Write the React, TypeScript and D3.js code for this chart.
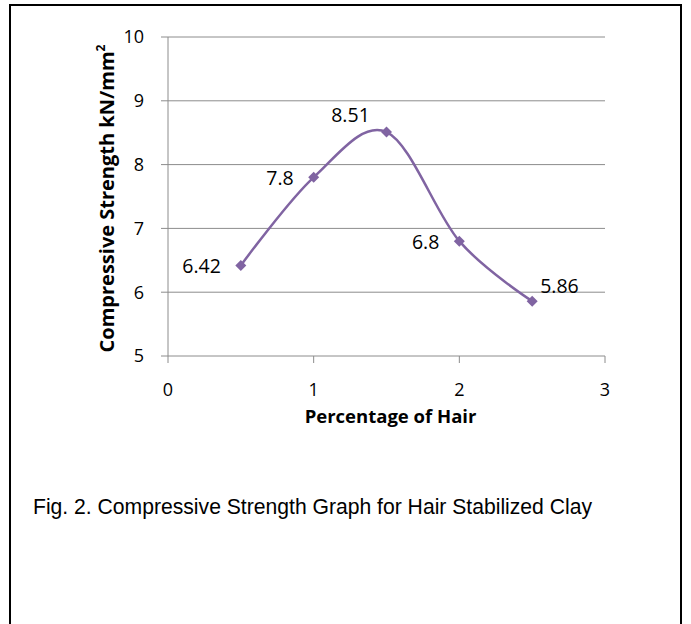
import React from "react";
import * as d3 from "d3";

const hairPct = [0.5, 1, 1.5, 2, 2.5];
const strength = [6.42, 7.8, 8.51, 6.8, 5.86];
const labels = ["6.42", "7.8", "8.51", "6.8", "5.86"];
const xTicks = [0, 1, 2, 3];
const yTicks = [5, 6, 7, 8, 9, 10];
const labelPos = ["left", "left", "above", "left", "rightAbove"];

const W = 691;
const H = 624;
const FONT = "'Open Sans', Lato, sans-serif";

export default function App() {
  const x = d3.scaleLinear().domain([0, 3]).range([168, 605]);
  const y = d3.scaleLinear().domain([5, 10]).range([356, 37]);
  const line = d3
    .line<number>()
    .x((_, i) => x(hairPct[i]))
    .y((d) => y(d))
    .curve(d3.curveCatmullRom.alpha(0));
  const purple = "#8064A2";
  const grid = "#8c8c8c";

  return (
    <svg
      width={W}
      height={H}
      style={{ position: "absolute", left: 0, top: 0, background: "#fff" }}
    >
      <rect x={0} y={0} width={W} height={H} fill="#fff" />
      <rect x={10} y={5} width={671} height={640} fill="none" stroke="#000" strokeWidth={2} />
      {yTicks.map((t) => (
        <g key={t}>
          <line x1={161} x2={x(3)} y1={y(t)} y2={y(t)} stroke={grid} strokeWidth={1} />
          <text
            x={144}
            y={y(t)}
            dy="0.36em"
            textAnchor="end"
            fontFamily={FONT}
            fontSize={18}
            fill="#000"
          >
            {t}
          </text>
        </g>
      ))}
      <line x1={x(0)} x2={x(0)} y1={y(10)} y2={y(5)} stroke={grid} strokeWidth={1} />
      {xTicks.map((t) => (
        <g key={t}>
          <line x1={x(t)} x2={x(t)} y1={y(5)} y2={y(5) + 7} stroke={grid} strokeWidth={1} />
          <text
            x={x(t)}
            y={390}
            dy="0.36em"
            textAnchor="middle"
            fontFamily={FONT}
            fontSize={18}
            fill="#000"
          >
            {t}
          </text>
        </g>
      ))}
      <path d={line(strength) || ""} fill="none" stroke={purple} strokeWidth={2.5} />
      {strength.map((v, i) => {
        const cx = x(hairPct[i]);
        const cy = y(v);
        const s = 5.5;
        return (
          <path
            key={i}
            d={`M${cx},${cy - s}L${cx + s},${cy}L${cx},${cy + s}L${cx - s},${cy}Z`}
            fill={purple}
          />
        );
      })}
      {strength.map((v, i) => {
        const cx = x(hairPct[i]);
        const cy = y(v);
        const p = labelPos[i];
        let tx = cx - 20;
        let ty = cy + 1;
        let anchor: "end" | "middle" | "start" = "end";
        if (p === "above") {
          tx = cx - 36;
          ty = cy - 17;
          anchor = "middle";
        } else if (p === "rightAbove") {
          tx = cx + 8;
          ty = cy - 15;
          anchor = "start";
        }
        return (
          <text
            key={i}
            x={tx}
            y={ty}
            dy="0.36em"
            textAnchor={anchor}
            fontFamily={FONT}
            fontSize={19.5}
            fill="#000"
          >
            {labels[i]}
          </text>
        );
      })}
      <text
        transform={`translate(114,${(y(5) + y(10)) / 2 + 2}) rotate(-90)`}
        textAnchor="middle"
        fontFamily={FONT}
        fontWeight="bold"
        fontSize={20}
        fill="#000"
      >
        Compressive Strength kN/mm
        <tspan dy={-9} fontSize={12}>2</tspan>
      </text>
      <text
        x={(x(0) + x(3)) / 2 + 4}
        y={423}
        textAnchor="middle"
        fontFamily={FONT}
        fontWeight="bold"
        fontSize={18.5}
        fill="#000"
      >
        Percentage of Hair
      </text>
      <text
        x={33}
        y={514}
        fontFamily="'Liberation Sans', Arial, sans-serif"
        fontSize={22}
        textLength={559}
        lengthAdjust="spacingAndGlyphs"
        fill="#000"
      >
        Fig. 2. Compressive Strength Graph for Hair Stabilized Clay
      </text>
    </svg>
  );
}
